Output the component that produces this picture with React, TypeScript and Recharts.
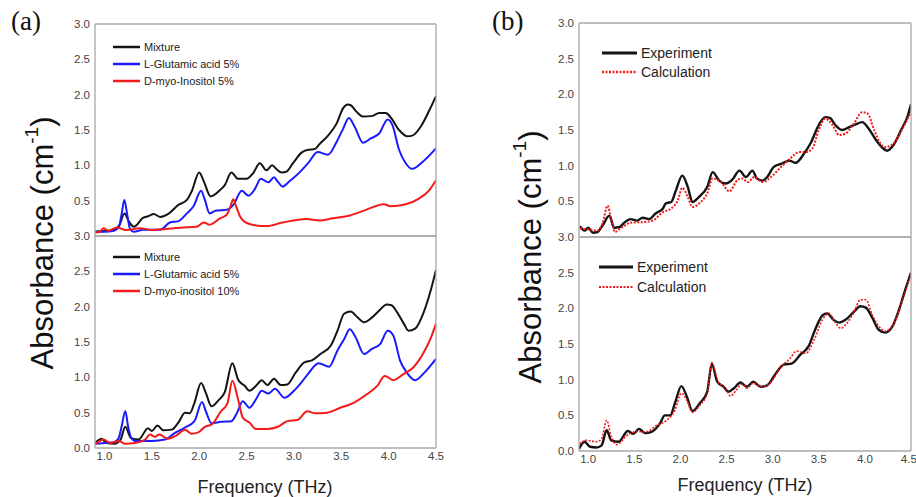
import { LineChart, Line, XAxis, YAxis, Legend } from 'recharts';

// x axis ticks (THz) and y axis ticks (cm-1)
const X_TICKS = [1.0, 1.5, 2.0, 2.5, 3.0, 3.5, 4.0, 4.5];
const Y_TICKS_UPPER = [0.5, 1.0, 1.5, 2.0, 2.5, 3.0];
const Y_TICKS_LOWER = [0, 0.5, 1.0, 1.5, 2.0, 2.5, 3.0];

// (a) upper: 5% / 5%
const mixUpperF = [
  0.90, 1.00, 1.10, 1.16, 1.21, 1.26, 1.31, 1.41, 1.46, 1.52,
  1.59, 1.67, 1.78, 1.87, 1.92, 2.00, 2.05, 2.12, 2.22, 2.27,
  2.34, 2.41, 2.50, 2.57, 2.64, 2.71, 2.77, 2.82, 2.87, 2.92,
  2.99, 3.08, 3.15, 3.22, 3.27, 3.36, 3.45, 3.52, 3.57, 3.60,
  3.66, 3.73, 3.83, 3.90, 3.97, 4.02, 4.11, 4.20, 4.25, 4.34,
  4.43, 4.50,
];
const mixUpperA = [
  0.06, 0.07, 0.085, 0.16, 0.32, 0.2, 0.13, 0.26, 0.28, 0.31,
  0.27, 0.31, 0.44, 0.51, 0.63, 0.90, 0.77, 0.56, 0.65, 0.72,
  0.90, 0.81, 0.81, 0.89, 1.03, 0.93, 1.00, 0.94, 0.90, 0.91,
  1.03, 1.18, 1.22, 1.23, 1.30, 1.42, 1.59, 1.81, 1.86, 1.85,
  1.76, 1.69, 1.70, 1.74, 1.74, 1.68, 1.50, 1.41, 1.42, 1.55,
  1.78, 1.98,
];
const gluUpperF = [
  0.90, 1.00, 1.10, 1.15, 1.18, 1.21, 1.24, 1.27, 1.31, 1.41,
  1.59, 1.69, 1.78, 1.87, 1.94, 2.02, 2.06, 2.11, 2.18, 2.29,
  2.36, 2.45, 2.52, 2.59, 2.65, 2.73, 2.79, 2.83, 2.88, 2.95,
  3.06, 3.15, 3.25, 3.36, 3.45, 3.52, 3.58, 3.64, 3.73, 3.81,
  3.90, 3.99, 4.04, 4.11, 4.18, 4.25, 4.36, 4.50,
];
const gluUpperA = [
  0.06, 0.06, 0.075, 0.12, 0.30, 0.51, 0.30, 0.10, 0.06, 0.09,
  0.09, 0.19, 0.21, 0.32, 0.42, 0.64, 0.51, 0.32, 0.36, 0.37,
  0.44, 0.64, 0.57, 0.67, 0.81, 0.76, 0.83, 0.77, 0.70, 0.77,
  0.90, 1.03, 1.19, 1.15, 1.33, 1.52, 1.67, 1.55, 1.32, 1.38,
  1.45, 1.65, 1.57, 1.22, 1.03, 0.95, 1.05, 1.24,
];
const inoUpperF = [
  0.90, 0.95, 0.99, 1.04, 1.13, 1.23, 1.37, 1.51, 1.65, 1.83,
  1.97, 2.05, 2.11, 2.22, 2.29, 2.33, 2.36, 2.39, 2.43, 2.48,
  2.60, 2.71, 2.88, 3.13, 3.27, 3.41, 3.59, 3.76, 3.95, 4.02,
  4.18, 4.32, 4.43, 4.50,
];
const inoUpperA = [
  0.05, 0.06, 0.11, 0.075, 0.12, 0.085, 0.11, 0.085, 0.10, 0.12,
  0.13, 0.19, 0.16, 0.25, 0.30, 0.42, 0.52, 0.42, 0.28, 0.20,
  0.15, 0.14, 0.19, 0.24, 0.22, 0.25, 0.29, 0.37, 0.45, 0.42,
  0.45, 0.53, 0.65, 0.79,
];

// (a) lower: 5% / 10%
const mixLowerF = [
  0.90, 0.97, 1.02, 1.10, 1.17, 1.22, 1.28, 1.36, 1.46, 1.50,
  1.56, 1.62, 1.71, 1.78, 1.85, 1.90, 1.95, 2.02, 2.07, 2.13,
  2.20, 2.27, 2.35, 2.41, 2.48, 2.53, 2.60, 2.66, 2.72, 2.79,
  2.86, 2.93, 3.02, 3.11, 3.19, 3.28, 3.39, 3.46, 3.53, 3.60,
  3.67, 3.74, 3.81, 3.89, 3.98, 4.03, 4.09, 4.16, 4.21, 4.28,
  4.37, 4.44, 4.50,
];
const mixLowerA = [
  0.07, 0.13, 0.07, 0.06, 0.12, 0.30, 0.14, 0.12, 0.28, 0.24,
  0.32, 0.25, 0.26, 0.36, 0.50, 0.49, 0.64, 0.92, 0.78, 0.59,
  0.67, 0.79, 1.20, 0.97, 0.88, 0.81, 0.88, 0.96, 0.89, 0.98,
  0.89, 0.90, 1.07, 1.21, 1.24, 1.33, 1.45, 1.66, 1.90, 1.93,
  1.85, 1.78, 1.83, 1.93, 2.03, 2.02, 1.92, 1.76, 1.66, 1.69,
  1.92, 2.21, 2.52,
];
const gluLowerF = [
  0.90, 1.00, 1.10, 1.15, 1.18, 1.22, 1.25, 1.28, 1.32, 1.50,
  1.64, 1.74, 1.85, 1.95, 2.03, 2.07, 2.13, 2.23, 2.34, 2.40,
  2.46, 2.53, 2.60, 2.66, 2.73, 2.80, 2.90, 3.00, 3.08, 3.15,
  3.26, 3.37, 3.46, 3.53, 3.59, 3.65, 3.74, 3.82, 3.91, 3.99,
  4.05, 4.12, 4.19, 4.28, 4.38, 4.50,
];
const gluLowerA = [
  0.06, 0.07, 0.08, 0.14, 0.30, 0.52, 0.30, 0.15, 0.10, 0.10,
  0.12, 0.21, 0.29, 0.38, 0.65, 0.52, 0.35, 0.37, 0.38, 0.50,
  0.66, 0.57, 0.69, 0.81, 0.77, 0.84, 0.71, 0.81, 0.93, 1.05,
  1.20, 1.15, 1.38, 1.54, 1.68, 1.57, 1.33, 1.40, 1.47, 1.66,
  1.59, 1.24, 1.07, 0.96, 1.07, 1.26,
];
const inoLowerF = [
  0.90, 0.99, 1.06, 1.15, 1.22, 1.32, 1.43, 1.48, 1.53, 1.58,
  1.67, 1.76, 1.85, 1.92, 1.99, 2.06, 2.13, 2.23, 2.30, 2.35,
  2.41, 2.46, 2.53, 2.60, 2.72, 2.83, 2.93, 3.04, 3.14, 3.23,
  3.35, 3.49, 3.63, 3.77, 3.88, 3.96, 4.05, 4.16, 4.26, 4.37,
  4.44, 4.50,
];
const inoLowerA = [
  0.05, 0.12, 0.07, 0.10, 0.06, 0.07, 0.12, 0.19, 0.16, 0.19,
  0.13, 0.18, 0.26, 0.20, 0.22, 0.30, 0.33, 0.52, 0.64, 0.95,
  0.69, 0.43, 0.36, 0.27, 0.27, 0.30, 0.38, 0.40, 0.52, 0.49,
  0.50, 0.57, 0.64, 0.76, 0.88, 1.02, 0.96, 1.05, 1.14, 1.35,
  1.54, 1.76,
];

// (b) upper: experiment vs calculation
const expUpperF = [
  0.91, 0.96, 1.00, 1.05, 1.10, 1.155, 1.23, 1.28, 1.34, 1.39,
  1.46, 1.53, 1.59, 1.66, 1.73, 1.81, 1.84, 1.90, 1.95, 2.02,
  2.08, 2.13, 2.20, 2.29, 2.35, 2.42, 2.49, 2.56, 2.64, 2.71,
  2.78, 2.83, 2.89, 2.94, 3.01, 3.10, 3.18, 3.25, 3.34, 3.41,
  3.50, 3.57, 3.62, 3.68, 3.75, 3.83, 3.90, 3.97, 4.04, 4.12,
  4.19, 4.24, 4.31, 4.40, 4.46, 4.50,
];
const expUpperA = [
  0.15, 0.09, 0.13, 0.06, 0.07, 0.16, 0.30, 0.13, 0.14, 0.20,
  0.25, 0.23, 0.27, 0.25, 0.33, 0.40, 0.47, 0.49, 0.65, 0.86,
  0.70, 0.49, 0.56, 0.70, 0.91, 0.79, 0.75, 0.80, 0.93, 0.84,
  0.93, 0.82, 0.79, 0.84, 0.98, 1.03, 1.07, 1.04, 1.17, 1.31,
  1.57, 1.68, 1.67, 1.57, 1.50, 1.54, 1.58, 1.61, 1.52, 1.36,
  1.25, 1.21, 1.29, 1.52, 1.68, 1.86,
];
const calcUpperF = [
  0.91, 1.03, 1.10, 1.155, 1.21, 1.245, 1.29, 1.35, 1.46, 1.61,
  1.70, 1.81, 1.90, 1.97, 2.02, 2.08, 2.13, 2.22, 2.29, 2.35,
  2.44, 2.53, 2.62, 2.67, 2.73, 2.80, 2.89, 2.98, 3.09, 3.19,
  3.29, 3.36, 3.43, 3.50, 3.57, 3.65, 3.72, 3.79, 3.88, 3.97,
  4.03, 4.10, 4.17, 4.22, 4.31, 4.40, 4.50,
];
const calcUpperA = [
  0.12, 0.10, 0.09, 0.19, 0.44, 0.28, 0.07, 0.12, 0.20, 0.21,
  0.23, 0.35, 0.40, 0.51, 0.69, 0.56, 0.42, 0.49, 0.61, 0.82,
  0.77, 0.64, 0.80, 0.82, 0.77, 0.84, 0.77, 0.84, 0.98, 1.10,
  1.19, 1.19, 1.24, 1.50, 1.66, 1.57, 1.43, 1.45, 1.59, 1.75,
  1.73, 1.50, 1.31, 1.26, 1.31, 1.50, 1.75,
];

// (b) lower
const expLowerF = [
  0.90, 0.96, 1.02, 1.09, 1.145, 1.20, 1.25, 1.33, 1.43, 1.49,
  1.55, 1.62, 1.69, 1.78, 1.83, 1.89, 1.94, 2.01, 2.07, 2.13,
  2.21, 2.29, 2.34, 2.40, 2.47, 2.52, 2.58, 2.65, 2.72, 2.79,
  2.87, 2.94, 3.03, 3.12, 3.21, 3.30, 3.39, 3.46, 3.54, 3.59,
  3.66, 3.72, 3.79, 3.88, 3.95, 4.01, 4.08, 4.15, 4.22, 4.30,
  4.37, 4.44, 4.50,
];
const expLowerA = [
  0.03, 0.13, 0.06, 0.05, 0.08, 0.29, 0.15, 0.13, 0.28, 0.24,
  0.31, 0.25, 0.27, 0.39, 0.50, 0.50, 0.67, 0.91, 0.76, 0.56,
  0.67, 0.83, 1.22, 0.97, 0.90, 0.83, 0.88, 0.96, 0.90, 0.97,
  0.90, 0.92, 1.08, 1.21, 1.23, 1.35, 1.47, 1.70, 1.90, 1.93,
  1.84, 1.80, 1.84, 1.95, 2.03, 2.01, 1.87, 1.70, 1.66, 1.75,
  1.98, 2.27, 2.50,
];
const calcLowerF = [
  0.90, 0.98, 1.09, 1.145, 1.20, 1.25, 1.31, 1.42, 1.53, 1.63,
  1.74, 1.85, 1.94, 2.01, 2.07, 2.13, 2.21, 2.29, 2.34, 2.41,
  2.49, 2.54, 2.61, 2.67, 2.72, 2.79, 2.87, 2.97, 3.08, 3.19,
  3.26, 3.36, 3.45, 3.54, 3.61, 3.68, 3.74, 3.81, 3.88, 3.95,
  4.01, 4.08, 4.15, 4.22, 4.32, 4.41, 4.50,
];
const calcLowerA = [
  0.10, 0.15, 0.13, 0.17, 0.43, 0.20, 0.09, 0.22, 0.27, 0.27,
  0.36, 0.43, 0.57, 0.81, 0.71, 0.54, 0.64, 0.81, 1.24, 0.97,
  0.88, 0.77, 0.86, 0.94, 0.88, 0.95, 0.90, 0.95, 1.16, 1.30,
  1.40, 1.37, 1.56, 1.84, 1.93, 1.80, 1.72, 1.80, 1.94, 2.12,
  2.12, 1.91, 1.75, 1.68, 1.80, 2.12, 2.48,
];

const SANS = '"Liberation Sans", Arial, sans-serif';
const AXIS = '#a8a8a8';
const TICK = '#444';
const BLACK = '#141414';
const BLUE = '#1a1aff';
const RED = '#f31a1a';

type Series = {
  name: string;
  points: { f: number; v: number }[];
  color: string;
  width: number;
  dash?: string;
};

const pts = (f: number[], v: number[]) =>
  f.slice(0, Math.min(f.length, v.length)).map((x, i) => ({ f: x, v: v[i] }));

type SubplotProps = {
  left: number;
  top: number;
  width: number;
  height: number;
  margin: { top: number; right: number; bottom: number; left: number };
  yAxisWidth: number;
  lower: boolean;
  yTicks: number[];
  series: Series[];
  legend: { left: number; top: number; font: number; row: number; line: number };
};

function Subplot(p: SubplotProps) {
  const renderLegend = () => (
    <div style={{ fontFamily: SANS, fontSize: p.legend.font, color: '#222' }}>
      {p.series.map((s) => (
        <div key={s.name} style={{ display: 'flex', alignItems: 'center', height: p.legend.row }}>
          <svg width={p.legend.line} height={6} style={{ marginRight: 4 }}>
            <line x1={0} y1={3} x2={p.legend.line} y2={3} stroke={s.color}
              strokeWidth={s.width + 0.5} strokeDasharray={s.dash} />
          </svg>
          <span style={{ whiteSpace: 'nowrap' }}>{s.name}</span>
        </div>
      ))}
    </div>
  );

  return (
    <div style={{ position: 'absolute', left: p.left, top: p.top }}>
      <LineChart width={p.width} height={p.height} margin={p.margin}>
        <XAxis xAxisId="frame" orientation="top" type="number" domain={[0.9, 4.5]}
          allowDataOverflow height={1} tick={false} tickLine={false}
          axisLine={{ stroke: AXIS, strokeWidth: 1.3 }} />
        <XAxis type="number" dataKey="f" domain={[0.9, 4.5]} allowDataOverflow ticks={X_TICKS}
          height={p.lower ? 24 : 4}
          axisLine={{ stroke: AXIS, strokeWidth: 1.3 }}
          tickLine={p.lower ? false : { stroke: AXIS, strokeWidth: 1 }}
          tickSize={p.lower ? 0 : -4}
          tickMargin={4}
          tick={p.lower ? { fill: TICK, fontSize: 11.5, fontFamily: SANS } : false}
          tickFormatter={(t: number) => t.toFixed(1)} />
        <YAxis type="number" domain={[0, 3]} ticks={p.yTicks} width={p.yAxisWidth}
          axisLine={{ stroke: AXIS, strokeWidth: 1.3 }} tickLine={false} tickSize={0} tickMargin={5}
          tick={{ fill: TICK, fontSize: 11.5, fontFamily: SANS }}
          tickFormatter={(t: number) => t.toFixed(1)} />
        <YAxis yAxisId="frame" orientation="right" type="number" domain={[0, 3]} width={1}
          tick={false} tickLine={false} axisLine={{ stroke: AXIS, strokeWidth: 1.3 }} />
        <Legend layout="vertical" align="center" verticalAlign="middle"
          wrapperStyle={{ left: p.legend.left, top: p.legend.top, width: 'auto', height: 'auto' }}
          content={renderLegend} />
        {p.series.map((s) => (
          <Line key={s.name} name={s.name} data={s.points} dataKey="v" type="monotone"
            stroke={s.color} strokeWidth={s.width} strokeDasharray={s.dash}
            dot={false} activeDot={false} isAnimationActive={false} />
        ))}
      </LineChart>
    </div>
  );
}

const aUpper: Series[] = [
  { name: 'Mixture', points: pts(mixUpperF, mixUpperA), color: BLACK, width: 2 },
  { name: 'L-Glutamic acid 5%', points: pts(gluUpperF, gluUpperA), color: BLUE, width: 2 },
  { name: 'D-myo-Inositol 5%', points: pts(inoUpperF, inoUpperA), color: RED, width: 2 },
];
const aLower: Series[] = [
  { name: 'Mixture', points: pts(mixLowerF, mixLowerA), color: BLACK, width: 2 },
  { name: 'L-Glutamic acid 5%', points: pts(gluLowerF, gluLowerA), color: BLUE, width: 2 },
  { name: 'D-myo-inositol 10%', points: pts(inoLowerF, inoLowerA), color: RED, width: 2 },
];
const bUpper: Series[] = [
  { name: 'Experiment', points: pts(expUpperF, expUpperA), color: BLACK, width: 2.4 },
  { name: 'Calculation', points: pts(calcUpperF, calcUpperA), color: RED, width: 2, dash: '2 1.5' },
];
const bLower: Series[] = [
  { name: 'Experiment', points: pts(expLowerF, expLowerA), color: BLACK, width: 2.4 },
  { name: 'Calculation', points: pts(calcLowerF, calcLowerA), color: RED, width: 1.6, dash: '2 1.5' },
];

export default function App() {
  return (
    <div style={{ position: 'absolute', left: 0, top: 0, width: 916, height: 497, background: '#fff', overflow: 'hidden' }}>
      <Subplot left={0} top={0} width={450} height={240}
        margin={{ top: 23, right: 13, bottom: 0, left: 0 }} yAxisWidth={95}
        lower={false} yTicks={Y_TICKS_UPPER} series={aUpper}
        legend={{ left: 113, top: 38, font: 11, row: 17, line: 27 }} />
      <Subplot left={0} top={220} width={450} height={252}
        margin={{ top: 15, right: 13, bottom: 0, left: 0 }} yAxisWidth={95}
        lower yTicks={Y_TICKS_LOWER} series={aLower}
        legend={{ left: 113, top: 28, font: 11, row: 17, line: 27 }} />
      <Subplot left={490} top={0} width={426} height={241}
        margin={{ top: 22, right: 4, bottom: 0, left: 0 }} yAxisWidth={89}
        lower={false} yTicks={Y_TICKS_UPPER} series={bUpper}
        legend={{ left: 112, top: 43, font: 14, row: 19, line: 35 }} />
      <Subplot left={490} top={220} width={426} height={255}
        margin={{ top: 16, right: 4, bottom: 0, left: 0 }} yAxisWidth={89}
        lower yTicks={Y_TICKS_LOWER} series={bLower}
        legend={{ left: 109, top: 37, font: 14, row: 20, line: 34 }} />
      <svg width={916} height={497} style={{ position: 'absolute', left: 0, top: 0, pointerEvents: 'none' }}>
        <text x={11} y={30} fontFamily='"Liberation Serif", "Times New Roman", serif' fontSize={27} fill="#111">(a)</text>
        <text x={492} y={30} fontFamily='"Liberation Serif", "Times New Roman", serif' fontSize={27} fill="#111">(b)</text>
        <text x={42} y={243} transform="rotate(-90 42 243)" textAnchor="middle" dominantBaseline="central"
          fontFamily={SANS} fontSize={31} fill="#111">
          Absorbance (cm<tspan dy={-11} fontSize={19}>-1</tspan><tspan dy={11}>)</tspan>
        </text>
        <text x={530} y={257} transform="rotate(-90 530 257)" textAnchor="middle" dominantBaseline="central"
          fontFamily={SANS} fontSize={31} fill="#111">
          Absorbance (cm<tspan dy={-11} fontSize={19}>-1</tspan><tspan dy={11}>)</tspan>
        </text>
        <text x={265} y={487} textAnchor="middle" dominantBaseline="central" fontFamily={SANS} fontSize={18} fill="#222">
          Frequency (THz)
        </text>
        <text x={745} y={485} textAnchor="middle" dominantBaseline="central" fontFamily={SANS} fontSize={18} fill="#222">
          Frequency (THz)
        </text>
      </svg>
    </div>
  );
}
